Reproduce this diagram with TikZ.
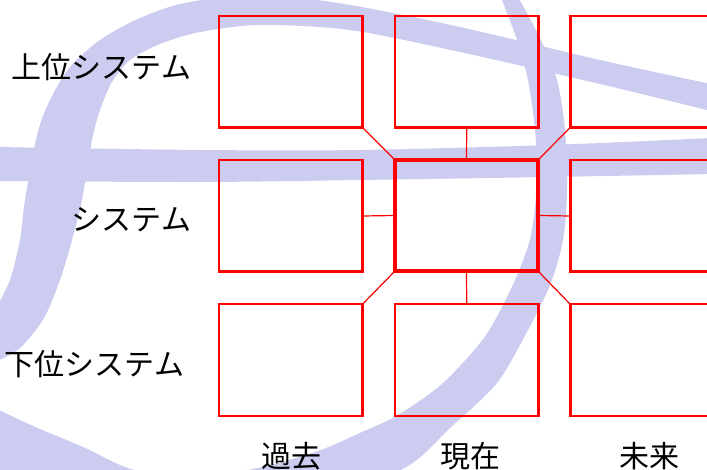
\documentclass[tikz,border=0pt]{standalone}
\usepackage{fontspec}
\setmainfont{Noto Sans CJK JP}
\definecolor{swoosh}{RGB}{204,204,240}
\definecolor{boxred}{RGB}{255,0,0}
\begin{document}
\begin{tikzpicture}[x=1pt,y=-1pt,
  bg/.style={fill=swoosh},
  cell/.style={draw=boxred, line width=2.5pt, minimum width=143.5pt, minimum height=111.5pt, inner sep=0pt, outer sep=0pt},
  core/.style={cell, line width=4pt},
  link/.style={draw=boxred, line width=1.2pt},
  lab/.style={font=\fontsize{30}{30}\selectfont, inner sep=0pt, outer sep=0pt, text=black}]
\useasboundingbox (0,0) rectangle (707,470);
\clip (0,0) rectangle (707,470);
\fill[white] (0,0) rectangle (707,470);
% background swooshes
\fill[bg] plot[smooth] coordinates {(-5,310) (10,280) (20,240) (25,200) (37,135) (50,100) (70,67) (100,40) (140,18) (185,3) (260,-6) (350,5) (460,27) (600,60) (720,86)}
  -- (720,113)
  -- plot[smooth] coordinates {(707,110) (600,84) (460,52) (350,30) (260,25) (200,32) (160,44) (130,60) (112,82) (100,110) (92,140) (82,200) (72,240) (60,280) (44,318) (20,348) (-5,362)}
  -- cycle;
\fill[bg] plot[smooth] coordinates {(-5,147) (200,150) (360,150) (550,145) (712,138)}
  -- plot[smooth] coordinates {(712,174) (550,177) (360,180) (200,182) (-5,181)}
  -- cycle;
\fill[bg] plot[smooth] coordinates {(500,-5) (517,40) (528,80) (535,130) (537,180) (531,235) (515,280) (486,335) (443,383) (398,415) (362,432) (318,451) (258,468) (190,477) (131,469) (83,447) (33,426) (-5,408)}
  -- plot[smooth] coordinates {(-5,495) (100,520) (220,525) (330,500) (408,466) (450,428) (497,383) (528,330) (550,285) (563,240) (567,190) (565,130) (557,80) (540,38) (517,-5)}
  -- cycle;
% grid of boxes
\node[cell] (tl) at (290.75,71.75) {};
\node[cell] (tc) at (466.75,71.75) {};
\node[cell] (tr) at (642,71.75) {};
\node[cell] (ml) at (290.75,216) {};
\node[core] (mc) at (466.5,215.5) {};
\node[cell] (mr) at (642,216) {};
\node[cell] (bl) at (290.75,360) {};
\node[cell] (bc) at (466.75,360) {};
\node[cell] (br) at (642,360) {};
% connectors
\draw[link] (mc.north west) -- (tl.south east);
\draw[link] (mc.north) -- (tc.south);
\draw[link] (mc.north east) -- (tr.south west);
\draw[link] (mc.west) -- (ml.east);
\draw[link] (mc.east) -- (mr.west);
\draw[link] (mc.south west) -- (bl.north east);
\draw[link] (mc.south) -- (bc.north);
\draw[link] (mc.south east) -- (br.north west);
% labels
\node[lab, anchor=base east] (l1) at (191,78.5) {上位システム};
\node[lab, anchor=base east] (l2) at (191,230.5) {システム};
\node[lab, anchor=base east] (l3) at (184,375.5) {下位システム};
\node[lab, anchor=base] (c1) at (291,467) {過去};
\node[lab, anchor=base] (c2) at (470,467) {現在};
\node[lab, anchor=base] (c3) at (649,467) {未来};
\end{tikzpicture}
\end{document}
